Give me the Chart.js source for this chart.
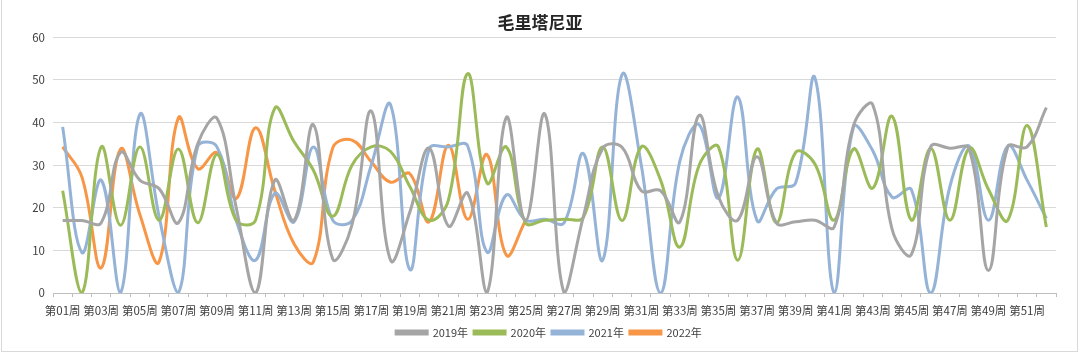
<!DOCTYPE html>
<html>
<head>
<meta charset="utf-8">
<script src="https://cdn.jsdelivr.net/npm/chart.js@4"></script>
<style>
  body { margin: 0; background: #fff; }
  #wrap { position: relative; width: 1080px; height: 354px; }
  #marco { position: absolute; left: 1px; top: -1px; width: 1075px; height: 351px; border: 1px solid #d9d9d9; pointer-events: none; }
</style>
</head>
<body>
<div id="wrap">
  <canvas id="grafico" width="1080" height="354"></canvas>
  <div id="marco"></div>
</div>
<script>
// Categorías (semanas)
const semanas = ['第01周', '第02周', '第03周', '第04周', '第05周', '第06周', '第07周', '第08周', '第09周', '第10周',
  '第11周', '第12周', '第13周', '第14周', '第15周', '第16周', '第17周', '第18周', '第19周', '第20周',
  '第21周', '第22周', '第23周', '第24周', '第25周', '第26周', '第27周', '第28周', '第29周', '第30周',
  '第31周', '第32周', '第33周', '第34周', '第35周', '第36周', '第37周', '第38周', '第39周', '第40周',
  '第41周', '第42周', '第43周', '第44周', '第45周', '第46周', '第47周', '第48周', '第49周', '第50周',
  '第51周', '第52周'];

// Series
const datos2019 = [17, 17, 16.5, 33, 26.5, 24.5, 16.5, 35, 41, 20, 0, 26.5, 17, 39.5, 8, 16, 42.7, 7.7, 19, 34,
  15.7, 23.4, 0, 41.2, 17, 42, 0, 18, 34, 34.2, 24, 24, 16.7, 41.7, 22.6, 17.1, 32, 16.5, 16.7, 17.1,
  15.5, 39.3, 44.2, 15, 9, 34.3, 34, 33.8, 5.3, 34.3, 34.3, 43.5];
const datos2020 = [24, 0, 34.3, 15.9, 34.3, 17.1, 33.8, 16.5, 32.5, 17, 17.1, 43.4, 35.5, 28.8, 18, 30, 34.3, 33.2, 25, 17.1,
  21.8, 51.5, 25.8, 34.3, 16.5, 17.1, 17.3, 17.8, 34.3, 17, 34.3, 26.5, 10.8, 30, 34.3, 7.7, 33.8, 16.5, 33, 30.3,
  17.1, 33.8, 24.6, 41.5, 17.1, 34, 17.1, 34, 24.3, 17.1, 39.3, 15.5];
const datos2021 = [39, 9.5, 26.5, 0, 41.9, 18, 0, 34.3, 34.3, 17, 7.7, 23.4, 16.7, 34.3, 17.1, 17, 30, 44.2, 5.5, 33.8,
  34.3, 34.5, 9.6, 23, 17.1, 17.3, 16.5, 32.7, 7.7, 51.3, 30, 0, 31, 39.5, 22.3, 46, 17, 24.4, 25.8, 50.5,
  0, 38.9, 33.4, 22.5, 24.3, 0, 25, 34.5, 17.1, 34.5, 26.5, 17.5];
const datos2022 = [34.3, 27.2, 5.9, 33.8, 18.5, 7.3, 41.1, 29.2, 32.9, 22.2, 38.8, 24, 11.5, 7.3, 34, 35.9, 30.8, 26, 28, 16.7,
  34.7, 17.3, 32.5, 8.9, 17];

const ticksY = [0, 10, 20, 30, 40, 50, 60];

const fuente = "'Noto Sans CJK SC', 'Noto Sans', sans-serif";

// Función para armar cada serie
function serie(nombre, valores, color) {
  return {
    label: nombre,
    data: valores,
    borderColor: color,
    backgroundColor: color,
    borderWidth: 3,
    pointRadius: 0,
    tension: 0.4,
    fill: false
  };
}

// Mueve un poco la leyenda a la derecha, como en el original
const moverLeyenda = {
  id: 'moverLeyenda',
  afterLayout: function(chart) {
    chart.legend.left += 9;
    chart.legend.right += 9;
  }
};

const ctx = document.getElementById('grafico').getContext('2d');
new Chart(ctx, {
  type: 'line',
  data: {
    labels: semanas,
    datasets: [
      serie('2019年', datos2019, '#a5a5a5'),
      serie('2020年', datos2020, '#9bbb59'),
      serie('2021年', datos2021, '#95b3d7'),
      serie('2022年', datos2022, '#f79646')
    ]
  },
  options: {
    responsive: false,
    animation: false,
    layout: { padding: { left: 24, right: 24, top: 0, bottom: 6 } },
    plugins: {
      title: {
        display: true,
        text: '毛里塔尼亚',
        color: '#262626',
        font: { family: fuente, size: 17, weight: 'bold' },
        padding: { top: 12, bottom: 5 }
      },
      legend: {
        position: 'bottom',
        labels: { boxWidth: 31, boxHeight: 3, padding: 6, color: '#404040', font: { family: fuente, size: 11 } }
      },
      tooltip: { enabled: false }
    },
    scales: {
      x: {
        offset: true,
        grid: { offset: true, drawOnChartArea: false, tickLength: 4, color: '#bfbfbf' },
        border: { color: '#bfbfbf' },
        afterFit: function(scale) {
          scale.height = 28;
        },
        ticks: {
          autoSkip: false,
          maxRotation: 0,
          padding: 7,
          color: '#404040',
          font: { family: fuente, size: 11.5 },
          callback: function(value, index) {
            return index % 2 === 0 ? semanas[index] : '';
          }
        }
      },
      y: {
        min: ticksY[0],
        max: ticksY[ticksY.length - 1],
        afterBuildTicks: function(scale) {
          scale.ticks = ticksY.map(v => ({ value: v }));
        },
        afterFit: function(scale) {
          scale.width = 29;
        },
        ticks: { padding: 8, color: '#404040', font: { family: fuente, size: 11.5 } },
        grid: { color: '#d9d9d9', drawTicks: false },
        border: { display: false }
      }
    }
  },
  plugins: [moverLeyenda]
});
</script>
</body>
</html>
